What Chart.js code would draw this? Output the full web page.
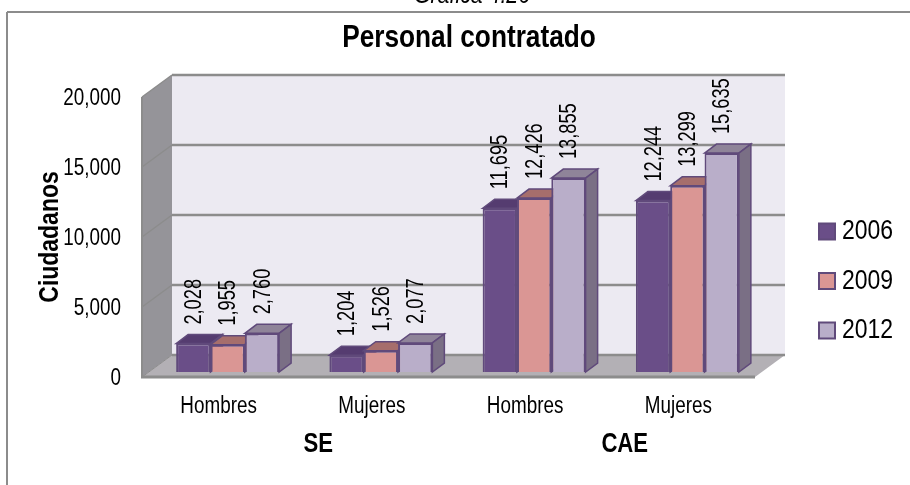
<!DOCTYPE html>
<html>
<head>
<meta charset="utf-8">
<title>Personal contratado</title>
<script src="https://cdn.jsdelivr.net/npm/chart.js@4/dist/chart.umd.min.js"></script>
<style>
  html, body { margin: 0; padding: 0; background: #fff; overflow: hidden; }
  canvas { display: block; }
</style>
</head>
<body>
<canvas id="chart" width="910" height="485"></canvas>
<script>
const categories = ["Hombres", "Mujeres", "Hombres", "Mujeres"];
const groups = ["SE", "CAE"];
const years = ["2006", "2009", "2012"];
const values2006 = [2028, 1204, 11695, 12244];
const values2009 = [1955, 1526, 12426, 13299];
const values2012 = [2760, 2077, 13855, 15635];
const yTicks = [0, 5000, 10000, 15000, 20000];

const FONT = '"Liberation Sans", sans-serif';
const GRID = "#8c8c8c";
const EDGE = "#604a7b";
const fronts = ["#6a4e88", "#da9694", "#b9aec9"];
const tops = ["#553c70", "#a66e6c", "#8f8499"];
const sides = ["#523b6e", "#a66e6c", "#7a6f85"];

const WALL = { dx: 30, dy: -22 };   // depth of the back wall
const BAR = { dx: 12, dy: -9 };     // depth of each bar
const SHIFT = { x: 9, y: -5 };      // bars stand a bit inside the floor

const fmt = v => v.toLocaleString("en-US");
const tickTexts = yTicks.map(fmt);

function poly(ctx, pts, fill, stroke, lw) {
  ctx.beginPath();
  pts.forEach((p, i) => i ? ctx.lineTo(p[0], p[1]) : ctx.moveTo(p[0], p[1]));
  ctx.closePath();
  if (fill) { ctx.fillStyle = fill; ctx.fill(); }
  if (stroke) { ctx.strokeStyle = stroke; ctx.lineWidth = lw; ctx.stroke(); }
}

function line(ctx, x1, y1, x2, y2, color, lw) {
  ctx.beginPath();
  ctx.moveTo(x1, y1);
  ctx.lineTo(x2, y2);
  ctx.strokeStyle = color;
  ctx.lineWidth = lw;
  ctx.stroke();
}

// no narrow face is installed, so squeeze every text around its anchor
let squeeze = 0.82;
const canvas = document.getElementById("chart");
const ctx2d = canvas.getContext("2d");
const fillText = ctx2d.fillText.bind(ctx2d);
ctx2d.fillText = function (text, x, y) {
  ctx2d.save();
  ctx2d.translate(years.includes(text) ? x - 7 : x, tickTexts.includes(text) ? y + 2 : y);
  ctx2d.scale(squeeze, 1);
  fillText(text, 0, 0);
  ctx2d.restore();
};

// frame, caption, walls and floor
const backdrop = {
  id: "backdrop",
  beforeDatasetsDraw(chart) {
    const { ctx, chartArea: a, scales } = chart;
    const yS = scales.y;
    const y0 = yS.getPixelForValue(0);
    const yMax = yS.getPixelForValue(yTicks[yTicks.length - 1]);
    const bx = a.left + WALL.dx, rx = a.right + WALL.dx;
    ctx.save();

    line(ctx, 7, 12, 910, 12, GRID, 2);
    line(ctx, 7, 12, 7, 485, GRID, 2);
    ctx.font = "italic 26px " + FONT;
    ctx.fillStyle = "#000";
    ctx.textAlign = "center";
    ctx.textBaseline = "alphabetic";
    ctx.fillText("Gráfica 4.26", 472, 3);

    ctx.fillStyle = "#ecEAf2";
    ctx.fillRect(bx, yMax + WALL.dy, rx - bx, y0 - yMax);
    poly(ctx, [[a.left, yMax], [bx, yMax + WALL.dy], [bx, y0 + WALL.dy], [a.left, y0]], "#959499");
    poly(ctx, [[a.left, y0], [bx, y0 + WALL.dy], [rx, y0 + WALL.dy], [a.right, y0]], "#b3b0b5");

    yTicks.forEach(v => {
      const y = yS.getPixelForValue(v);
      line(ctx, a.left, y, bx, y + WALL.dy, GRID, v === 0 ? 1 : 1.5);
      line(ctx, bx, y + WALL.dy, rx, y + WALL.dy, GRID, 2.5);
    });
    line(ctx, a.left, yMax, a.left, y0, GRID, 2);
    line(ctx, a.left - 1, y0, a.right, y0, GRID, 3);

    // side and top faces of the bars, left to right
    categories.forEach((_, i) => {
      years.forEach((_, d) => {
        const el = chart.getDatasetMeta(d).data[i];
        const l = el.x - el.width / 2 + SHIFT.x, r = el.x + el.width / 2 + SHIFT.x;
        const t = el.y + SHIFT.y, b = el.base + SHIFT.y;
        poly(ctx, [[l, t], [l + BAR.dx, t + BAR.dy], [r + BAR.dx, t + BAR.dy], [r, t]], tops[d], EDGE, 1.5);
        poly(ctx, [[r, t], [r + BAR.dx, t + BAR.dy], [r + BAR.dx, b + BAR.dy], [r, b]], sides[d], EDGE, 1.5);
      });
    });
    ctx.restore();

    // fronts are the library's own bars, just moved onto the floor
    ctx.save();
    ctx.translate(SHIFT.x, SHIFT.y);
  },
  afterDatasetsDraw(chart) {
    const ctx = chart.ctx;
    ctx.restore();
    ctx.save();
    ctx.font = "24px " + FONT;
    ctx.fillStyle = "#000";
    ctx.textAlign = "left";
    ctx.textBaseline = "middle";
    squeeze = 0.76;
    years.forEach((_, d) => {
      chart.getDatasetMeta(d).data.forEach((el, i) => {
        ctx.save();
        ctx.translate(el.x + SHIFT.x, el.y + SHIFT.y + BAR.dy - 10);
        ctx.rotate(-Math.PI / 2);
        ctx.fillText(fmt(chart.data.datasets[d].data[i]), 0, 1);
        ctx.restore();
      });
    });
    squeeze = 0.82;
    ctx.restore();
  },
  afterLayout(chart) {
    // legend keeps its own drawing, only its box moves
    const lg = chart.legend;
    const h = lg.bottom - lg.top;
    lg.left = 797.5;
    lg.right = 910;
    lg.top = 281 - h / 2;
    lg.bottom = lg.top + h;
  }
};

new Chart(canvas, {
  type: "bar",
  data: {
    labels: categories,
    datasets: [
      { label: years[0], data: values2006, backgroundColor: fronts[0] },
      { label: years[1], data: values2009, backgroundColor: fronts[1] },
      { label: years[2], data: values2012, backgroundColor: fronts[2] }
    ].map(d => Object.assign(d, {
      borderColor: EDGE,
      borderWidth: 2,
      categoryPercentage: 0.672,
      barPercentage: 1,
      clip: false
    }))
  },
  options: {
    responsive: false,
    animation: false,
    layout: { padding: { left: 28, right: 0, top: 0, bottom: 18 } },
    scales: {
      x: {
        weight: 0,
        grid: { display: false },
        border: { display: false },
        afterFit: s => { s.height = 42; },
        ticks: { padding: 8, maxRotation: 0, color: "#000", font: { family: FONT, size: 23 } }
      },
      x2: {
        type: "category",
        position: "bottom",
        weight: 1,
        labels: groups,
        grid: { display: false },
        border: { display: false },
        afterFit: s => { s.height = 48; },
        ticks: { padding: 1, labelOffset: 23, maxRotation: 0, color: "#000", font: { family: FONT, size: 27, weight: "bold" } }
      },
      y: {
        min: 0,
        max: 20000,
        afterBuildTicks: s => { s.ticks = yTicks.map(v => ({ value: v })); },
        afterFit: s => { s.width = 114; },
        grid: { display: false },
        border: { display: false },
        title: {
          display: true,
          text: "Ciudadanos",
          color: "#000",
          padding: { top: 5, bottom: 0 },
          font: { family: FONT, size: 28, weight: "bold" }
        },
        ticks: {
          padding: 13,
          color: "#000",
          font: { family: FONT, size: 23 },
          callback: v => fmt(v)
        }
      }
    },
    plugins: {
      tooltip: { enabled: false },
      title: {
        display: true,
        text: "Personal contratado",
        color: "#000",
        padding: { top: 19, bottom: 39.6 },
        font: { family: FONT, size: 32, weight: "bold" }
      },
      legend: {
        position: "right",
        labels: { boxWidth: 16, boxHeight: 16, padding: 21.5, color: "#000", font: { family: FONT, size: 28 } }
      }
    }
  },
  plugins: [backdrop, {
    id: "legendWidth",
    beforeLayout(chart) {
      const lg = chart.legend;
      if (lg.fitWrapped) return;
      const fit = lg.fit;
      lg.fit = function () { fit.call(this); this.width = 155; };
      lg.fitWrapped = true;
    }
  }]
});
</script>
</body>
</html>
